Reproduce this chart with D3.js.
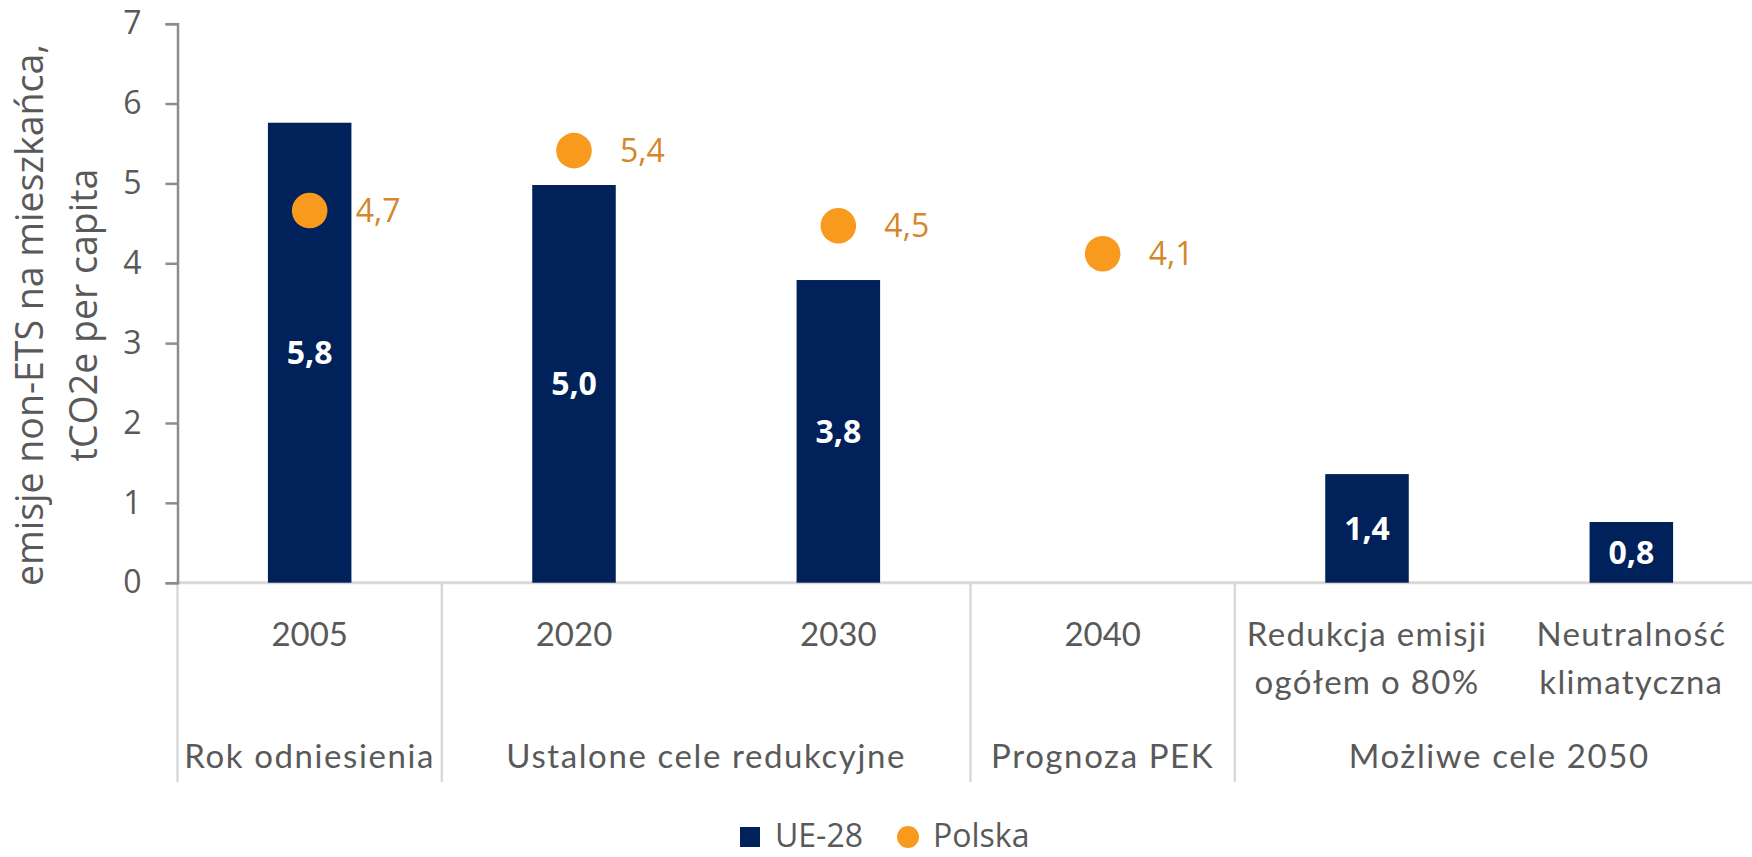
<!DOCTYPE html>
<html>
<head>
<meta charset="utf-8">
<script src="https://cdn.jsdelivr.net/npm/d3@7"></script>
<style>
  html, body { margin: 0; padding: 0; background: #fff; }
  svg { display: block; }
</style>
</head>
<body>
<svg id="chart" width="1752" height="857"></svg>
<script>
// ---- data ----
const categories = ["2005", "2020", "2030", "2040", "Redukcja emisji\nogółem o 80%", "Neutralność\nklimatyczna"];
const ueValues = [5.76, 4.98, 3.79, null, 1.36, 0.76];
const plValues = [4.66, 5.41, 4.47, 4.12, null, null];
const groupLabels = ["Rok odniesienia", "Ustalone cele redukcyjne", "Prognoza PEK", "Możliwe cele 2050"];
const groupSizes = [1, 2, 1, 2];
const yTicks = [0, 1, 2, 3, 4, 5, 6, 7];
const seriesNames = ["UE-28", "Polska"];
const yTitle = ["emisje non-ETS na mieszkańca,", "tCO2e per capita"];

// ---- styles ----
const NAVY = "#00215A", ORANGE = "#F79A1E", ORANGE_TXT = "#D4872B", GRAY_TXT = "#595959";
const SANS = "'Open Sans', 'Noto Sans', sans-serif";
const CAT = "Lato, 'Open Sans', sans-serif";

const svg = d3.select("#chart");
const fmt = d3.formatLocale({decimal: ",", thousands: " ", grouping: [3], currency: ["", ""]}).format(".1f");

const x = d3.scaleBand().domain(d3.range(categories.length)).range([177.5, 1763.5]).paddingInner(0).paddingOuter(0);
const y = d3.scaleLinear().domain([0, 7]).range([582.7, 23.7]);
const barW = x.bandwidth() * 0.316;
const cx = i => x(i) + x.bandwidth() / 2;

// x axis baseline
svg.append("line").attr("x1", 177.5).attr("x2", 1752).attr("y1", y(0)).attr("y2", y(0))
  .attr("stroke", "#d9d9d9").attr("stroke-width", 3);

// group separators
let acc = 0;
const sepIdx = [0];
groupSizes.forEach(s => { acc += s; sepIdx.push(acc); });
sepIdx.forEach(k => {
  const xx = k < categories.length ? x(k) : x.range()[1];
  svg.append("line").attr("x1", xx).attr("x2", xx).attr("y1", y(0)).attr("y2", 782)
    .attr("stroke", "#d9d9d9").attr("stroke-width", 2.5);
});

// y axis
const yAxis = d3.axisLeft(y).tickValues(yTicks).tickSize(12).tickPadding(24).tickFormat(d3.format("d"));
const gy = svg.append("g").attr("transform", "translate(177.5,0)").call(yAxis);
gy.select(".domain").attr("stroke", "#8c8c8c").attr("stroke-width", 2.5);
gy.selectAll(".tick line").attr("stroke", "#8c8c8c").attr("stroke-width", 2.5);
gy.selectAll(".tick text").attr("fill", GRAY_TXT).style("font-family", SANS).style("font-size", "32px");

// y title
const yt = svg.append("text").attr("transform", "translate(0,315) rotate(-90)")
  .attr("text-anchor", "middle").attr("fill", GRAY_TXT)
  .style("font-family", SANS).style("font-size", "37.5px");
yt.append("tspan").attr("x", 0).attr("y", 43).text(yTitle[0]);
yt.append("tspan").attr("x", 0).attr("y", 97).text(yTitle[1]);

// bars
const barIdx = d3.range(categories.length).filter(i => ueValues[i] != null);
svg.append("g").selectAll("rect").data(barIdx).join("rect")
  .attr("x", i => cx(i) - barW / 2).attr("width", barW)
  .attr("y", i => y(ueValues[i])).attr("height", i => y(0) - y(ueValues[i]))
  .attr("fill", NAVY);

svg.append("g").selectAll("text").data(barIdx).join("text")
  .attr("x", i => cx(i)).attr("y", i => (y(ueValues[i]) + y(0)) / 2)
  .attr("dy", "0.36em").attr("text-anchor", "middle").attr("fill", "#fff")
  .style("font-family", SANS).style("font-size", "32px").style("font-weight", "700")
  .text(i => fmt(ueValues[i]));

// dots
const dotIdx = d3.range(categories.length).filter(i => plValues[i] != null);
svg.append("g").selectAll("circle").data(dotIdx).join("circle")
  .attr("cx", i => cx(i)).attr("cy", i => y(plValues[i])).attr("r", 17.8)
  .attr("fill", ORANGE);
svg.append("g").selectAll("text").data(dotIdx).join("text")
  .attr("x", i => cx(i) + 46).attr("y", i => y(plValues[i]))
  .attr("dy", "0.36em").attr("fill", ORANGE_TXT)
  .style("font-family", SANS).style("font-size", "32px")
  .text(i => fmt(plValues[i]));

// category labels
const catG = svg.append("g");
categories.forEach((c, i) => {
  const t = catG.append("text").attr("text-anchor", "middle").attr("fill", GRAY_TXT)
    .style("font-family", CAT).style("font-size", "33px")
    .style("letter-spacing", /[A-Za-zżłóńś]/.test(c) ? "1.3px" : "0px");
  c.split("\n").forEach((line, j) => {
    t.append("tspan").attr("x", cx(i)).attr("y", 646 + j * 48).text(line);
  });
});

// group labels
let start = 0;
groupLabels.forEach((g, k) => {
  const x0 = x(start);
  const x1 = start + groupSizes[k] < categories.length ? x(start + groupSizes[k]) : x.range()[1];
  svg.append("text").attr("x", (x0 + x1) / 2).attr("y", 768).attr("text-anchor", "middle")
    .attr("fill", GRAY_TXT).style("font-family", CAT).style("font-size", "33px")
    .style("letter-spacing", "1.6px").text(g);
  start += groupSizes[k];
});

// legend
const lg = svg.append("g");
lg.append("rect").attr("x", 740).attr("y", 827).attr("width", 20).attr("height", 20).attr("fill", NAVY);
lg.append("text").attr("x", 775).attr("y", 847).attr("fill", GRAY_TXT)
  .style("font-family", SANS).style("font-size", "32px").text(seriesNames[0]);
lg.append("circle").attr("cx", 908).attr("cy", 837).attr("r", 11).attr("fill", ORANGE);
lg.append("text").attr("x", 933).attr("y", 847).attr("fill", GRAY_TXT)
  .style("font-family", SANS).style("font-size", "32px").text(seriesNames[1]);
</script>
</body>
</html>
